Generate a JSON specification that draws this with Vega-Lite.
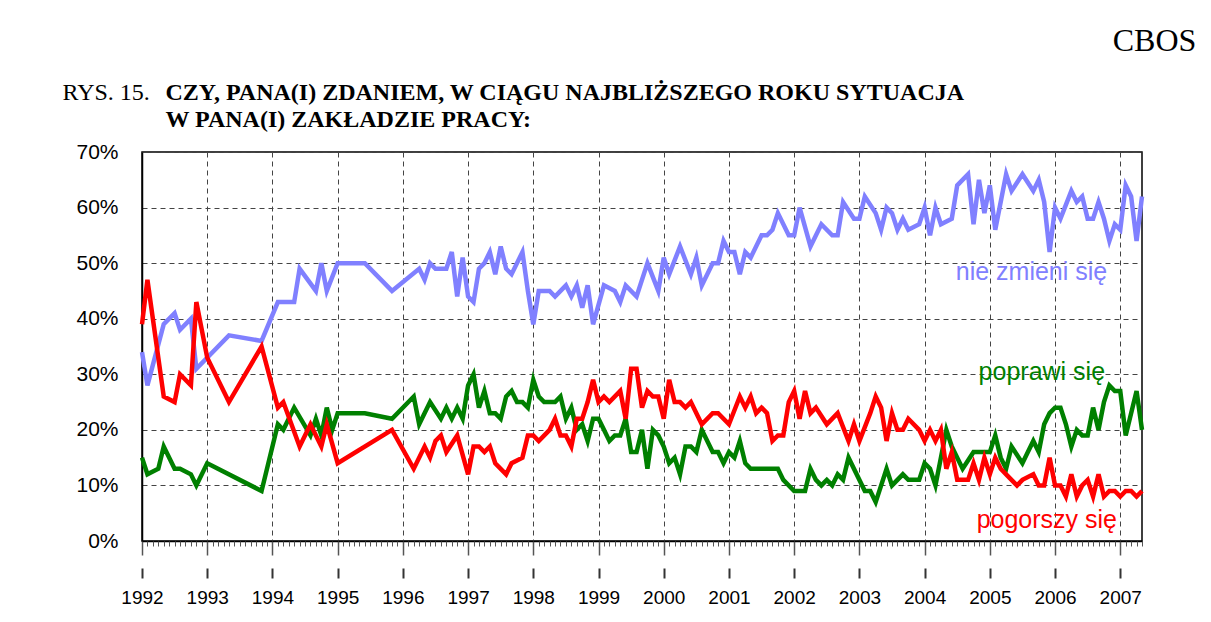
{
  "$schema": "https://vega.github.io/schema/vega-lite/v6.json",
  "width": 1000,
  "height": 389,
  "autosize": {"type": "none"},
  "padding": {"left": 142, "top": 152, "right": 69, "bottom": 81},
  "background": "white",
  "config": {"view": {"stroke": "black", "strokeWidth": 1.5}, "font": "Liberation Sans"},
  "datasets": {
    "lines": [
      {"s":"n","m":0,"v":34},{"s":"n","m":1,"v":28},{"s":"n","m":4,"v":39},{"s":"n","m":6,"v":41},{"s":"n","m":7,"v":38},{"s":"n","m":9,"v":40},{"s":"n","m":10,"v":31},{"s":"n","m":16,"v":37},{"s":"n","m":22,"v":36},{"s":"n","m":25,"v":43},{"s":"n","m":28,"v":43},{"s":"n","m":29,"v":49},{"s":"n","m":32,"v":45},{"s":"n","m":33,"v":50},{"s":"n","m":34,"v":45},{"s":"n","m":36,"v":50},{"s":"n","m":41,"v":50},{"s":"n","m":46,"v":45},{"s":"n","m":51,"v":49},{"s":"n","m":52,"v":47},{"s":"n","m":53,"v":50},{"s":"n","m":54,"v":49},{"s":"n","m":56,"v":49},{"s":"n","m":57,"v":52},{"s":"n","m":58,"v":44},{"s":"n","m":59,"v":51},{"s":"n","m":60,"v":44},{"s":"n","m":61,"v":43},{"s":"n","m":62,"v":49},{"s":"n","m":63,"v":50},{"s":"n","m":64,"v":52},{"s":"n","m":65,"v":48},{"s":"n","m":66,"v":53},{"s":"n","m":67,"v":49},{"s":"n","m":68,"v":48},{"s":"n","m":70,"v":52},{"s":"n","m":71,"v":45},{"s":"n","m":72,"v":39},{"s":"n","m":73,"v":45},{"s":"n","m":75,"v":45},{"s":"n","m":76,"v":44},{"s":"n","m":78,"v":46},{"s":"n","m":79,"v":44},{"s":"n","m":80,"v":46},{"s":"n","m":81,"v":42},{"s":"n","m":82,"v":46},{"s":"n","m":83,"v":39},{"s":"n","m":85,"v":46},{"s":"n","m":87,"v":45},{"s":"n","m":88,"v":43},{"s":"n","m":89,"v":46},{"s":"n","m":91,"v":44},{"s":"n","m":93,"v":50},{"s":"n","m":95,"v":45},{"s":"n","m":96,"v":51},{"s":"n","m":97,"v":48},{"s":"n","m":99,"v":53},{"s":"n","m":101,"v":48},{"s":"n","m":102,"v":51},{"s":"n","m":103,"v":46},{"s":"n","m":105,"v":50},{"s":"n","m":106,"v":50},{"s":"n","m":107,"v":54},{"s":"n","m":108,"v":52},{"s":"n","m":109,"v":52},{"s":"n","m":110,"v":48},{"s":"n","m":111,"v":52},{"s":"n","m":112,"v":51},{"s":"n","m":114,"v":55},{"s":"n","m":115,"v":55},{"s":"n","m":116,"v":56},{"s":"n","m":117,"v":59},{"s":"n","m":119,"v":55},{"s":"n","m":120,"v":55},{"s":"n","m":121,"v":60},{"s":"n","m":123,"v":53},{"s":"n","m":125,"v":57},{"s":"n","m":127,"v":55},{"s":"n","m":128,"v":55},{"s":"n","m":129,"v":61},{"s":"n","m":131,"v":58},{"s":"n","m":132,"v":58},{"s":"n","m":133,"v":62},{"s":"n","m":135,"v":59},{"s":"n","m":136,"v":56},{"s":"n","m":137,"v":60},{"s":"n","m":138,"v":59},{"s":"n","m":139,"v":56},{"s":"n","m":140,"v":58},{"s":"n","m":141,"v":56},{"s":"n","m":143,"v":57},{"s":"n","m":144,"v":60},{"s":"n","m":145,"v":55},{"s":"n","m":146,"v":60},{"s":"n","m":147,"v":57},{"s":"n","m":149,"v":58},{"s":"n","m":150,"v":64},{"s":"n","m":152,"v":66},{"s":"n","m":153,"v":57},{"s":"n","m":154,"v":65},{"s":"n","m":155,"v":59},{"s":"n","m":156,"v":64},{"s":"n","m":157,"v":56},{"s":"n","m":159,"v":66},{"s":"n","m":160,"v":63},{"s":"n","m":162,"v":66},{"s":"n","m":164,"v":63},{"s":"n","m":165,"v":65},{"s":"n","m":166,"v":61},{"s":"n","m":167,"v":52},{"s":"n","m":168,"v":60},{"s":"n","m":169,"v":58},{"s":"n","m":171,"v":63},{"s":"n","m":172,"v":61},{"s":"n","m":173,"v":62},{"s":"n","m":174,"v":58},{"s":"n","m":175,"v":58},{"s":"n","m":176,"v":61},{"s":"n","m":177,"v":58},{"s":"n","m":178,"v":54},{"s":"n","m":179,"v":57},{"s":"n","m":180,"v":56},{"s":"n","m":181,"v":64},{"s":"n","m":182,"v":62},{"s":"n","m":183,"v":54},{"s":"n","m":184,"v":62},
      {"s":"p","m":0,"v":15},{"s":"p","m":1,"v":12},{"s":"p","m":3,"v":13},{"s":"p","m":4,"v":17},{"s":"p","m":6,"v":13},{"s":"p","m":7,"v":13},{"s":"p","m":9,"v":12},{"s":"p","m":10,"v":10},{"s":"p","m":12,"v":14},{"s":"p","m":22,"v":9},{"s":"p","m":25,"v":21},{"s":"p","m":26,"v":20},{"s":"p","m":28,"v":24},{"s":"p","m":31,"v":19},{"s":"p","m":32,"v":22},{"s":"p","m":33,"v":19},{"s":"p","m":34,"v":24},{"s":"p","m":35,"v":20},{"s":"p","m":36,"v":23},{"s":"p","m":41,"v":23},{"s":"p","m":46,"v":22},{"s":"p","m":50,"v":26},{"s":"p","m":51,"v":21},{"s":"p","m":53,"v":25},{"s":"p","m":55,"v":22},{"s":"p","m":56,"v":24},{"s":"p","m":57,"v":22},{"s":"p","m":58,"v":24},{"s":"p","m":59,"v":22},{"s":"p","m":60,"v":28},{"s":"p","m":61,"v":30},{"s":"p","m":62,"v":24},{"s":"p","m":63,"v":27},{"s":"p","m":64,"v":23},{"s":"p","m":65,"v":23},{"s":"p","m":66,"v":22},{"s":"p","m":67,"v":26},{"s":"p","m":68,"v":27},{"s":"p","m":69,"v":25},{"s":"p","m":70,"v":25},{"s":"p","m":71,"v":24},{"s":"p","m":72,"v":29},{"s":"p","m":73,"v":26},{"s":"p","m":74,"v":25},{"s":"p","m":76,"v":25},{"s":"p","m":77,"v":26},{"s":"p","m":78,"v":22},{"s":"p","m":79,"v":24},{"s":"p","m":80,"v":20},{"s":"p","m":81,"v":21},{"s":"p","m":82,"v":18},{"s":"p","m":83,"v":22},{"s":"p","m":84,"v":22},{"s":"p","m":85,"v":20},{"s":"p","m":86,"v":18},{"s":"p","m":87,"v":19},{"s":"p","m":88,"v":19},{"s":"p","m":89,"v":22},{"s":"p","m":90,"v":16},{"s":"p","m":91,"v":16},{"s":"p","m":92,"v":20},{"s":"p","m":93,"v":13},{"s":"p","m":94,"v":20},{"s":"p","m":95,"v":19},{"s":"p","m":96,"v":17},{"s":"p","m":97,"v":14},{"s":"p","m":98,"v":15},{"s":"p","m":99,"v":12},{"s":"p","m":100,"v":17},{"s":"p","m":101,"v":17},{"s":"p","m":102,"v":16},{"s":"p","m":103,"v":20},{"s":"p","m":105,"v":16},{"s":"p","m":106,"v":16},{"s":"p","m":107,"v":14},{"s":"p","m":108,"v":16},{"s":"p","m":109,"v":15},{"s":"p","m":110,"v":18},{"s":"p","m":111,"v":14},{"s":"p","m":112,"v":13},{"s":"p","m":117,"v":13},{"s":"p","m":118,"v":11},{"s":"p","m":120,"v":9},{"s":"p","m":122,"v":9},{"s":"p","m":123,"v":13},{"s":"p","m":124,"v":11},{"s":"p","m":125,"v":10},{"s":"p","m":126,"v":11},{"s":"p","m":127,"v":10},{"s":"p","m":128,"v":12},{"s":"p","m":129,"v":11},{"s":"p","m":130,"v":15},{"s":"p","m":133,"v":9},{"s":"p","m":134,"v":9},{"s":"p","m":135,"v":7},{"s":"p","m":137,"v":13},{"s":"p","m":138,"v":10},{"s":"p","m":140,"v":12},{"s":"p","m":141,"v":11},{"s":"p","m":143,"v":11},{"s":"p","m":144,"v":14},{"s":"p","m":145,"v":13},{"s":"p","m":146,"v":10},{"s":"p","m":148,"v":20},{"s":"p","m":149,"v":17},{"s":"p","m":150,"v":15},{"s":"p","m":151,"v":13},{"s":"p","m":153,"v":16},{"s":"p","m":154,"v":16},{"s":"p","m":156,"v":16},{"s":"p","m":157,"v":19},{"s":"p","m":158,"v":15},{"s":"p","m":159,"v":13},{"s":"p","m":160,"v":17},{"s":"p","m":162,"v":14},{"s":"p","m":163,"v":16},{"s":"p","m":164,"v":18},{"s":"p","m":165,"v":16},{"s":"p","m":166,"v":21},{"s":"p","m":167,"v":23},{"s":"p","m":168,"v":24},{"s":"p","m":169,"v":24},{"s":"p","m":170,"v":21},{"s":"p","m":171,"v":17},{"s":"p","m":172,"v":20},{"s":"p","m":173,"v":19},{"s":"p","m":174,"v":19},{"s":"p","m":175,"v":24},{"s":"p","m":176,"v":20},{"s":"p","m":177,"v":25},{"s":"p","m":178,"v":28},{"s":"p","m":179,"v":27},{"s":"p","m":180,"v":27},{"s":"p","m":181,"v":19},{"s":"p","m":182,"v":23},{"s":"p","m":183,"v":27},{"s":"p","m":184,"v":20},
      {"s":"g","m":0,"v":39},{"s":"g","m":1,"v":47},{"s":"g","m":4,"v":26},{"s":"g","m":6,"v":25},{"s":"g","m":7,"v":30},{"s":"g","m":9,"v":28},{"s":"g","m":10,"v":43},{"s":"g","m":12,"v":33},{"s":"g","m":16,"v":25},{"s":"g","m":22,"v":35},{"s":"g","m":25,"v":24},{"s":"g","m":26,"v":25},{"s":"g","m":29,"v":17},{"s":"g","m":31,"v":21},{"s":"g","m":32,"v":19},{"s":"g","m":33,"v":17},{"s":"g","m":34,"v":21},{"s":"g","m":36,"v":14},{"s":"g","m":46,"v":20},{"s":"g","m":50,"v":13},{"s":"g","m":52,"v":17},{"s":"g","m":53,"v":15},{"s":"g","m":54,"v":18},{"s":"g","m":55,"v":19},{"s":"g","m":56,"v":16},{"s":"g","m":58,"v":19},{"s":"g","m":60,"v":12},{"s":"g","m":61,"v":17},{"s":"g","m":62,"v":17},{"s":"g","m":63,"v":16},{"s":"g","m":64,"v":17},{"s":"g","m":65,"v":14},{"s":"g","m":67,"v":12},{"s":"g","m":68,"v":14},{"s":"g","m":70,"v":15},{"s":"g","m":71,"v":19},{"s":"g","m":72,"v":19},{"s":"g","m":73,"v":18},{"s":"g","m":75,"v":20},{"s":"g","m":76,"v":22},{"s":"g","m":77,"v":19},{"s":"g","m":78,"v":19},{"s":"g","m":79,"v":17},{"s":"g","m":80,"v":22},{"s":"g","m":81,"v":22},{"s":"g","m":82,"v":25},{"s":"g","m":83,"v":29},{"s":"g","m":84,"v":25},{"s":"g","m":85,"v":26},{"s":"g","m":86,"v":25},{"s":"g","m":88,"v":27},{"s":"g","m":89,"v":22},{"s":"g","m":90,"v":31},{"s":"g","m":91,"v":31},{"s":"g","m":92,"v":24},{"s":"g","m":93,"v":27},{"s":"g","m":94,"v":26},{"s":"g","m":95,"v":26},{"s":"g","m":96,"v":22},{"s":"g","m":97,"v":29},{"s":"g","m":98,"v":25},{"s":"g","m":99,"v":25},{"s":"g","m":100,"v":24},{"s":"g","m":101,"v":25},{"s":"g","m":103,"v":21},{"s":"g","m":105,"v":23},{"s":"g","m":106,"v":23},{"s":"g","m":108,"v":21},{"s":"g","m":110,"v":26},{"s":"g","m":111,"v":24},{"s":"g","m":112,"v":26},{"s":"g","m":113,"v":23},{"s":"g","m":114,"v":24},{"s":"g","m":115,"v":23},{"s":"g","m":116,"v":18},{"s":"g","m":117,"v":19},{"s":"g","m":118,"v":19},{"s":"g","m":119,"v":25},{"s":"g","m":120,"v":27},{"s":"g","m":121,"v":22},{"s":"g","m":122,"v":27},{"s":"g","m":123,"v":23},{"s":"g","m":124,"v":24},{"s":"g","m":126,"v":21},{"s":"g","m":128,"v":23},{"s":"g","m":130,"v":18},{"s":"g","m":131,"v":21},{"s":"g","m":132,"v":18},{"s":"g","m":134,"v":23},{"s":"g","m":135,"v":26},{"s":"g","m":136,"v":24},{"s":"g","m":137,"v":18},{"s":"g","m":138,"v":23},{"s":"g","m":139,"v":20},{"s":"g","m":140,"v":20},{"s":"g","m":141,"v":22},{"s":"g","m":143,"v":20},{"s":"g","m":144,"v":18},{"s":"g","m":145,"v":20},{"s":"g","m":146,"v":18},{"s":"g","m":147,"v":20},{"s":"g","m":148,"v":13},{"s":"g","m":149,"v":16},{"s":"g","m":150,"v":11},{"s":"g","m":152,"v":11},{"s":"g","m":153,"v":14},{"s":"g","m":154,"v":11},{"s":"g","m":155,"v":15},{"s":"g","m":156,"v":12},{"s":"g","m":157,"v":15},{"s":"g","m":158,"v":13},{"s":"g","m":159,"v":12},{"s":"g","m":161,"v":10},{"s":"g","m":162,"v":11},{"s":"g","m":164,"v":12},{"s":"g","m":165,"v":10},{"s":"g","m":166,"v":10},{"s":"g","m":167,"v":15},{"s":"g","m":168,"v":10},{"s":"g","m":169,"v":10},{"s":"g","m":170,"v":8},{"s":"g","m":171,"v":12},{"s":"g","m":172,"v":8},{"s":"g","m":173,"v":10},{"s":"g","m":174,"v":11},{"s":"g","m":175,"v":8},{"s":"g","m":176,"v":12},{"s":"g","m":177,"v":8},{"s":"g","m":178,"v":9},{"s":"g","m":179,"v":9},{"s":"g","m":180,"v":8},{"s":"g","m":181,"v":9},{"s":"g","m":182,"v":9},{"s":"g","m":183,"v":8},{"s":"g","m":184,"v":9}
    ],
    "labels": [
      {"s":"n","t":"nie zmieni się","m":177.6,"v":48.4},
      {"s":"p","t":"poprawi się","m":177.2,"v":30.4},
      {"s":"g","t":"pogorszy się","m":179.4,"v":3.8}
    ]
  },
  "resolve": {"axis": {"x": "independent", "y": "independent"}},
  "layer": [
    {
      "data": {"name": "lines"},
      "transform": [{"filter": "datum.s == 'n'"}],
      "mark": {"type": "line", "strokeWidth": 4.5},
      "encoding": {
        "x": {"field": "m", "type": "quantitative",
          "scale": {"domain": [0, 184], "nice": false, "zero": false},
          "axis": {"orient": "bottom", "values": [0,12,24,36,48,60,72,84,96,108,120,132,144,156,168,180],
            "labelExpr": "'' + (1992 + datum.value / 12)", "labelFlush": false,
            "grid": true, "gridDash": [5, 4], "gridColor": "#444", "gridWidth": 1,
            "tickSize": 14, "tickColor": "#555", "tickWidth": 1.5,
            "domainColor": "black", "domainWidth": 1.5,
            "labelFont": "Liberation Sans", "labelFontSize": 19, "labelColor": "black", "labelPadding": 33,
            "title": null}},
        "y": {"field": "v", "type": "quantitative",
          "scale": {"domain": [0, 70], "nice": false},
          "axis": {"values": [0,10,20,30,40,50,60,70], "labelExpr": "datum.value + '%'",
            "grid": true, "gridDash": [5, 4], "gridColor": "#444", "gridWidth": 1,
            "ticks": false, "domainColor": "black", "domainWidth": 1.5,
            "labelFont": "Liberation Sans", "labelFontSize": 21, "labelColor": "black", "labelPadding": 24,
            "title": ["CZY, PANA(I) ZDANIEM, W CIĄGU NAJBLIŻSZEGO ROKU SYTUACJA", "W PANA(I) ZAKŁADZIE PRACY:"],
            "titleAngle": 0, "titleAlign": "left", "titleBaseline": "alphabetic",
            "titleX": 23, "titleY": -53, "titleFont": "Liberation Serif", "titleFontSize": 24,
            "titleFontWeight": "bold", "titleLineHeight": 27, "titleColor": "black"}},
        "color": {"field": "s", "type": "nominal",
          "scale": {"domain": ["n", "p", "g"], "range": ["#8080ff", "#008000", "#ff0000"]}, "legend": null}
      }
    },
    {
      "data": {"name": "lines"},
      "transform": [{"filter": "datum.s != 'n'"}],
      "mark": {"type": "line", "strokeWidth": 4.5},
      "encoding": {
        "x": {"field": "m", "type": "quantitative",
          "axis": {"orient": "bottom", "tickCount": 184, "labels": false, "grid": false, "domain": false,
            "tickSize": 5, "tickColor": "#555", "tickWidth": 1,
            "title": "CBOS", "titleX": 1012, "titleY": -491, "titleFont": "Liberation Serif",
            "titleFontSize": 32, "titleFontWeight": "normal", "titleAlign": "center",
            "titleBaseline": "alphabetic", "titleColor": "black"}},
        "y": {"field": "v", "type": "quantitative",
          "axis": {"orient": "right", "labels": false, "ticks": false, "grid": false, "domain": false,
            "title": "RYS. 15.", "titleAngle": 0, "titleAlign": "left", "titleBaseline": "alphabetic",
            "titleX": -1080, "titleY": -53, "titleFont": "Liberation Serif", "titleFontSize": 24,
            "titleFontWeight": "normal", "titleColor": "black"}},
        "color": {"field": "s", "type": "nominal", "legend": null}
      }
    },
    {
      "data": {"name": "labels"},
      "mark": {"type": "text", "align": "right", "baseline": "middle", "font": "Liberation Sans", "fontSize": 25},
      "encoding": {
        "x": {"field": "m", "type": "quantitative",
          "axis": {"orient": "bottom", "offset": 27, "values": [0,12,24,36,48,60,72,84,96,108,120,132,144,156,168,180],
            "labels": false, "grid": false, "domain": false, "tickSize": 10, "tickWidth": 2, "tickColor": "#333", "title": null}},
        "y": {"field": "v", "type": "quantitative", "axis": null},
        "text": {"field": "t"},
        "color": {"field": "s", "type": "nominal", "legend": null}
      }
    }
  ]
}
